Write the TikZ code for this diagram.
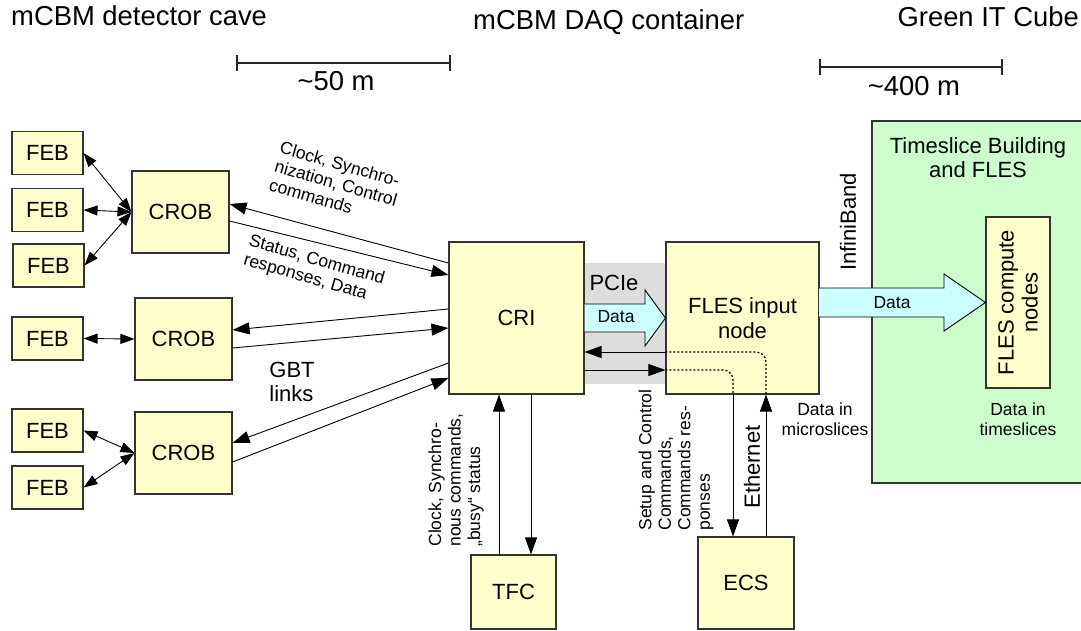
\documentclass[tikz,border=0pt]{standalone}
\usepackage{fontspec}
\setmainfont{Liberation Sans}
\usetikzlibrary{arrows.meta}

\definecolor{boxfill}{HTML}{FFFFCC}
\definecolor{boxline}{HTML}{333333}
\definecolor{cubefill}{HTML}{CCFFCC}
\definecolor{pipefill}{HTML}{CCFFFF}
\definecolor{busgray}{HTML}{DDDDDD}

\newcommand{\approxsign}{\char126\relax}

\begin{document}
\begin{tikzpicture}[x=1pt,y=-1pt,
  unit/.style={draw=boxline, fill=boxfill, line width=1.1pt, inner sep=0pt,
    align=center, font=\fontsize{22}{25}\selectfont},
  febbox/.style={unit, minimum width=71pt, minimum height=43pt},
  crobbox/.style={unit, minimum width=97pt, minimum height=82pt},
  bigtext/.style={font=\fontsize{27.4}{31}\selectfont, inner sep=0pt},
  midtext/.style={font=\fontsize{22}{24}\selectfont, inner sep=0pt},
  smalltext/.style={font=\fontsize{17.5}{19.5}\selectfont, inner sep=0pt},
  link/.style={line width=0.9pt, -{Triangle[length=17pt,width=12pt]}},
  duplex/.style={line width=0.9pt, {Triangle[length=14pt,width=10pt]}-{Triangle[length=14pt,width=10pt]}},
  routed/.style={line width=1.2pt, dash pattern=on 2pt off 2pt, rounded corners=10pt},
  pipe/.style={draw=black, line width=0.9pt, fill=pipefill},
  scalebar/.style={line width=1.6pt, draw=black!85}
]
\useasboundingbox (0,0) rectangle (1081,631);

% location headings and distance bars
\node[bigtext, anchor=base west] (cave) at (11,26) {mCBM detector cave};
\node[bigtext, anchor=base west] (daq) at (473,30) {mCBM DAQ container};
\node[bigtext, anchor=base east] (gitc) at (1079,27) {Green IT Cube};
\draw[scalebar] (237,55) -- (237,71) (237,63) -- (450,63) (450,55) -- (450,71);
\node[bigtext] (d50) at (336,81) {\approxsign 50 m};
\draw[scalebar] (820,59) -- (820,75) (820,67) -- (1002,67) (1002,59) -- (1002,75);
\node[bigtext] (d400) at (914,86) {\approxsign 400 m};

% PCIe bus behind the CRI / FLES input pair
\fill[busgray] (584,263) rectangle (666,384);

% Green IT Cube region, open to the right
\fill[cubefill] (872,121) rectangle (1081,483);
\draw[draw=boxline, line width=1.4pt] (1081,121) -- (872,121) -- (872,483) -- (1081,483);
\node[midtext, align=center] (tsb) at (978,158) {Timeslice Building\\and FLES};

% front-end boards and readout boards
\node[febbox] (feb1) at (47.5,153) {FEB};
\node[febbox] (feb2) at (47.5,210) {FEB};
\node[febbox] (feb3) at (48.5,265.5) {FEB};
\node[crobbox] (crob1) at (180.5,212) {CROB};
\node[febbox] (feb4) at (47.5,338.5) {FEB};
\node[crobbox] (crob2) at (183.5,339) {CROB};
\node[febbox] (feb5) at (47.5,430.5) {FEB};
\node[febbox] (feb6) at (47.5,487.5) {FEB};
\node[crobbox] (crob3) at (183.5,453) {CROB};

% DAQ container
\node[unit, minimum width=135pt, minimum height=152pt] (cri) at (516.5,318) {CRI};
\node[unit, minimum width=153pt, minimum height=152pt] (fles) at (742.5,318) {FLES input\\node};
\node[unit, minimum width=85pt, minimum height=74pt] (tfc) at (513.5,592) {TFC};
\node[unit, minimum width=96pt, minimum height=92pt] (ecs) at (746,583) {ECS};

% compute farm
\node[unit, minimum width=64pt, minimum height=171pt] (comp) at (1018,302.5) {};
\node[midtext, rotate=90, align=center] (compl) at (comp.center) {FLES compute\\nodes};

% FEB <-> CROB
\draw[duplex] (feb1.east) -- (crob1.west);
\draw[duplex] (feb2.east) -- (crob1.west);
\draw[duplex] (feb3.east) -- (crob1.west);
\draw[duplex] (feb4.east) -- (crob2.west);
\draw[duplex] (feb5.east) -- (crob3.west);
\draw[duplex] (feb6.east) -- (crob3.west);

% GBT links CROB <-> CRI
\draw[link] ([yshift=55pt]cri.west) -- ([yshift=8pt]crob1.east);
\draw[link] ([yshift=-9pt]crob1.east) -- ([yshift=43pt]cri.west);
\draw[link] ([yshift=9pt]cri.west) -- ([yshift=9pt]crob2.east);
\draw[link] ([yshift=-9pt]crob2.east) -- ([yshift=-10pt]cri.west);
\draw[link] ([yshift=-45pt]cri.west) -- ([yshift=10pt]crob3.east);
\draw[link] ([yshift=-9pt]crob3.east) -- ([yshift=-60pt]cri.west);

\node[smalltext, rotate=-16, align=left] (lclk) at (336,183)
  {Clock, Synchro-\\nization, Control\\commands};
\node[smalltext, rotate=-16, align=left] (lsts) at (314,270)
  {Status, Command\\responses, Data};
\node[midtext, align=left] (lgbt) at (292,382) {GBT\\links};

% PCIe data transfer
\filldraw[pipe] ([yshift=14pt]cri.east) -- (645,304) -- (645,290) -- (fles.west)
  -- (645,346) -- (645,332) -- ([yshift=-14pt]cri.east);
\node[midtext] (lpcie) at (614,283) {PCIe};
\node[smalltext] (lpdata) at (616,317) {Data};

% control path CRI <-> FLES input <-> ECS
\draw[link] ([yshift=-34pt]fles.west) -- ([yshift=-34pt]cri.east);
\draw[link] ([yshift=-52pt]cri.east) -- ([yshift=-52pt]fles.west);
\draw[routed] ([yshift=-34pt]fles.west) -| ([xshift=23.5pt]fles.south);
\draw[routed] ([yshift=-52pt]fles.west) -| ([xshift=-9.5pt]fles.south);
\draw[link] ([xshift=20pt]ecs.north) -- ([xshift=23.5pt]fles.south);
\draw[link] ([xshift=-9.5pt]fles.south) -- ([xshift=-13pt]ecs.north);

\node[smalltext, rotate=90, align=left] (lecs) at (676,460)
  {Setup and Control\\Commands,\\Commands res-\\ponses};
\node[midtext, rotate=90] (leth) at (752,467) {Ethernet};
\node[smalltext, align=center] (lmicro) at (825,419) {Data in\\microslices};

% timing and fast control
\draw[link] ([xshift=-14.5pt]tfc.north) -- ([xshift=-17.5pt]cri.south);
\draw[link] ([xshift=14.5pt]cri.south) -- ([xshift=17.5pt]tfc.north);
\node[smalltext, rotate=90, align=left] (ltfc) at (456,480)
  {Clock, Synchro-\\nous commands,\\„busy“ status};

% InfiniBand data transfer to the compute nodes
\filldraw[pipe] (819,288) -- (944,288) -- (944,274) -- (comp.west)
  -- (944,331) -- (944,317) -- (819,317);
\node[smalltext] (lidata) at (892,303) {Data};
\node[midtext, rotate=90] (lib) at (848,222) {InfiniBand};
\node[smalltext, align=center] (lts) at (1018,419) {Data in\\timeslices};
\end{tikzpicture}
\end{document}
